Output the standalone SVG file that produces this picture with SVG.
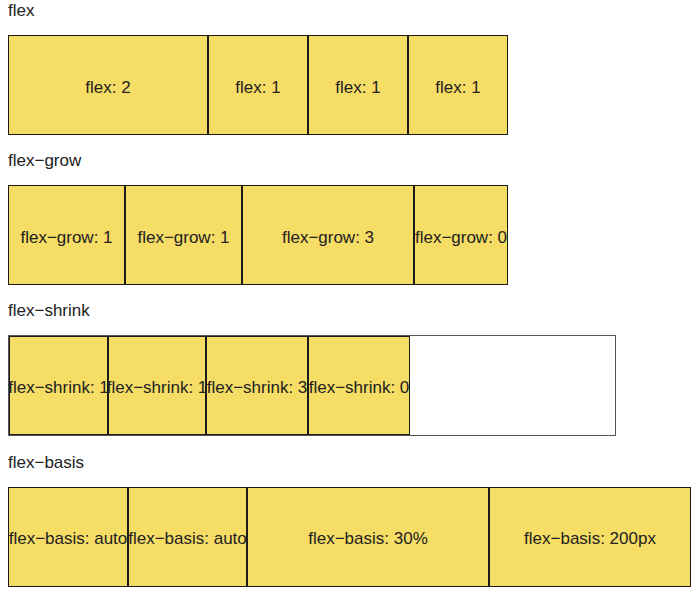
<svg xmlns="http://www.w3.org/2000/svg" width="699" height="596" viewBox="0 0 699 596">
<style>
.bg{fill:#ffffff}
.item{fill:#f6dd65;stroke:#1c1c1c;stroke-width:1}
.cont{fill:#ffffff;stroke:#555555;stroke-width:1}
text{font-family:"Liberation Sans",Arial,sans-serif;font-size:17px;fill:#222222}
.c{text-anchor:middle}
</style>
<rect class="bg" x="0" y="0" width="699" height="596"/>
<g id="heading-flex"><text x="8" y="16">flex</text></g>
<g id="row-flex">
<g id="flex-a"><rect class="item" x="8.5" y="35.5" width="199" height="99"/><text class="c" x="108" y="92.5">flex: 2</text></g>
<g id="flex-b"><rect class="item" x="208.5" y="35.5" width="99" height="99"/><text class="c" x="258" y="92.5">flex: 1</text></g>
<g id="flex-c"><rect class="item" x="308.5" y="35.5" width="99" height="99"/><text class="c" x="358" y="92.5">flex: 1</text></g>
<g id="flex-d"><rect class="item" x="408.5" y="35.5" width="99" height="99"/><text class="c" x="458" y="92.5">flex: 1</text></g>
</g>
<g id="heading-grow"><text x="8" y="166">flex−grow</text></g>
<g id="row-grow">
<g id="grow-a"><rect class="item" x="8.5" y="185.5" width="116" height="99"/><text class="c" x="66.5" y="242.5">flex−grow: 1</text></g>
<g id="grow-b"><rect class="item" x="125.5" y="185.5" width="116" height="99"/><text class="c" x="183.5" y="242.5">flex−grow: 1</text></g>
<g id="grow-c"><rect class="item" x="242.5" y="185.5" width="171" height="99"/><text class="c" x="328" y="242.5">flex−grow: 3</text></g>
<g id="grow-d"><rect class="item" x="414.5" y="185.5" width="93" height="99"/><text class="c" x="461" y="242.5">flex−grow: 0</text></g>
</g>
<g id="heading-shrink"><text x="8" y="316">flex−shrink</text></g>
<g id="row-shrink">
<rect class="cont" x="8.5" y="335.5" width="607" height="100"/>
<g id="shrink-a"><rect class="item" x="9.5" y="336.5" width="98" height="98"/><text class="c" x="58.5" y="392.5">flex−shrink: 1</text></g>
<g id="shrink-b"><rect class="item" x="108.5" y="336.5" width="97" height="98"/><text class="c" x="157" y="392.5">flex−shrink: 1</text></g>
<g id="shrink-c"><rect class="item" x="206.5" y="336.5" width="101" height="98"/><text class="c" x="257" y="392.5">flex−shrink: 3</text></g>
<g id="shrink-d"><rect class="item" x="308.5" y="336.5" width="101" height="98"/><text class="c" x="359" y="392.5">flex−shrink: 0</text></g>
</g>
<g id="heading-basis"><text x="8" y="468">flex−basis</text></g>
<g id="row-basis">
<g id="basis-a"><rect class="item" x="8.5" y="487.5" width="119" height="99"/><text class="c" x="68" y="544">flex−basis: auto</text></g>
<g id="basis-b"><rect class="item" x="128.5" y="487.5" width="118" height="99"/><text class="c" x="187.5" y="544">flex−basis: auto</text></g>
<g id="basis-c"><rect class="item" x="247.5" y="487.5" width="241" height="99"/><text class="c" x="368" y="544">flex−basis: 30%</text></g>
<g id="basis-d"><rect class="item" x="489.5" y="487.5" width="201" height="99"/><text class="c" x="590" y="544">flex−basis: 200px</text></g>
</g>
<g id="connectors"/>
</svg>
